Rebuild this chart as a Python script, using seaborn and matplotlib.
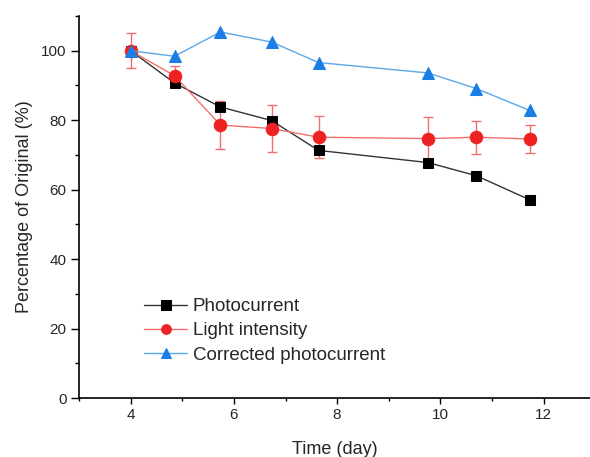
import numpy as np
import pandas as pd
import matplotlib
matplotlib.use("Agg")
import matplotlib.pyplot as plt
import seaborn as sns
from matplotlib.ticker import MultipleLocator

# data
time_days = [4.0, 4.85, 5.74, 6.73, 7.64, 9.76, 10.70, 11.73]
photocurrent = [100.0, 90.7, 83.8, 79.9, 71.3, 67.8, 64.0, 57.1]
light_intensity = [100.0, 92.8, 78.6, 77.6, 75.1, 74.7, 75.1, 74.6]
light_err = [5.0, 2.7, 7.0, 6.7, 6.0, 6.3, 4.7, 4.1]
corrected = [100.0, 98.4, 105.4, 102.5, 96.6, 93.6, 89.1, 82.8]
series_names = ["Photocurrent", "Light intensity", "Corrected photocurrent"]

df = pd.DataFrame({
    "Time": time_days * 3,
    "Value": photocurrent + light_intensity + corrected,
    "Series": [series_names[0]] * 8 + [series_names[1]] * 8 + [series_names[2]] * 8,
})

sns.set_style("ticks")
plt.rcParams["font.family"] = ["Liberation Sans", "DejaVu Sans"]

fig = plt.figure(figsize=(5.9, 4.57), dpi=100)
ax = fig.add_axes([0.134, 0.129, 0.866, 0.836])

line_colors = {"Photocurrent": "#333333", "Light intensity": "#f07070", "Corrected photocurrent": "#5aa8e8"}
marker_colors = {"Photocurrent": "#000000", "Light intensity": "#ee2222", "Corrected photocurrent": "#1a7ee6"}
markers = {"Photocurrent": "s", "Light intensity": "o", "Corrected photocurrent": "^"}
sizes = {"Photocurrent": 7, "Light intensity": 9, "Corrected photocurrent": 9}

ax.errorbar(time_days, light_intensity, yerr=light_err, fmt="none",
            ecolor="#f07070", elinewidth=1.0, capsize=3.5, capthick=1.0, zorder=1)

for name in series_names:
    sub = df[df["Series"] == name]
    sns.lineplot(data=sub, x="Time", y="Value", ax=ax, color=line_colors[name],
                 linewidth=1.0, marker=markers[name], markersize=sizes[name],
                 markerfacecolor=marker_colors[name], markeredgecolor=marker_colors[name],
                 label=name, zorder=3)

ax.set_xlim(3, 12.9)
ax.set_ylim(0, 110)
ax.set_xticks([4, 6, 8, 10, 12])
ax.xaxis.set_minor_locator(MultipleLocator(1))
ax.set_yticks([0, 20, 40, 60, 80, 100])
ax.yaxis.set_minor_locator(MultipleLocator(10))
ax.tick_params(axis="both", which="major", labelsize=11, direction="out", width=1, color="black", pad=3)
ax.tick_params(axis="x", which="major", length=4)
ax.tick_params(axis="x", which="minor", direction="out", length=2.5, width=1, color="black")
ax.tick_params(axis="y", which="major", length=6)
ax.tick_params(axis="y", which="minor", direction="out", length=3, width=1, color="black")
for s in ["top", "right"]:
    ax.spines[s].set_visible(False)
for s in ["left", "bottom"]:
    ax.spines[s].set_color("black")
    ax.spines[s].set_linewidth(1.2)

ax.set_xlabel("Time (day)", fontsize=13, labelpad=14)
ax.set_ylabel("Percentage of Original (%)", fontsize=13, labelpad=6)

leg = ax.legend(loc="upper left", bbox_to_anchor=(0.127, 0.262), frameon=False, fontsize=13.5,
                handlelength=2.3, handletextpad=0.3, labelspacing=0.38, borderaxespad=0, borderpad=0)
for lh in leg.get_lines():
    lh.set_markersize(7)

fig.savefig("out.png", dpi=100)
